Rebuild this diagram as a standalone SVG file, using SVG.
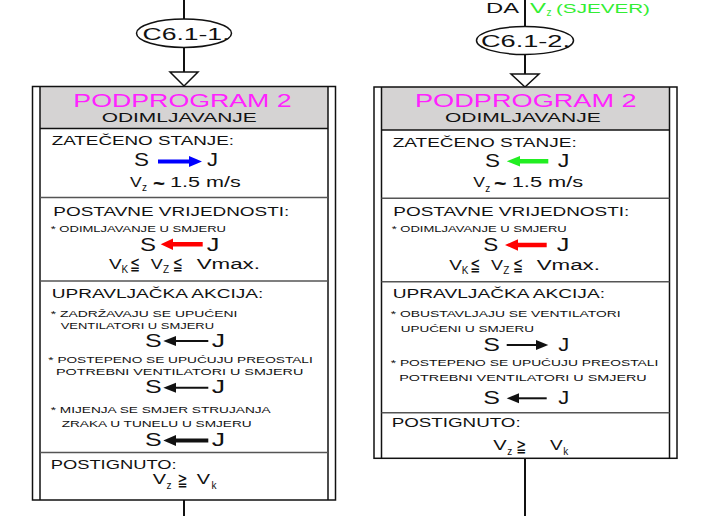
<svg xmlns="http://www.w3.org/2000/svg" width="719" height="516" viewBox="0 0 719 516">
<style>
text{font-family:"Liberation Sans",Arial,"DejaVu Sans",sans-serif;fill:#111}
.t{font-size:18.5px;fill:#ff22ff}
.sub{font-size:13px}
.vv{font-size:14.5px}
.h{font-size:12.5px}
.s{font-size:9px}
.sj{font-size:18.5px}
.v{font-size:15.5px}
.vs{font-size:10px}
.sym{font-family:"DejaVu Sans",sans-serif;font-size:18px}
.frame{fill:none;stroke:#111;stroke-width:1.5}
.hdr{fill:#d5d3d3}
.sep{stroke:#555;stroke-width:1.5}
.con{stroke:#111;stroke-width:2;fill:none}
.tri{fill:#fff;stroke:#111;stroke-width:1.5}
.ell{fill:#fff;stroke:#111;stroke-width:1.5}
.blk{fill:#111}
</style>
<g id="connectors">
<line class="con" x1="184" y1="0" x2="184" y2="19"/>
<line class="con" x1="184" y1="47.5" x2="184" y2="72"/>
<polygon class="tri" points="170,72 198,72 184,86"/>
<line class="con" x1="184" y1="500" x2="184" y2="516"/>
<line class="con" x1="525" y1="0" x2="525" y2="26.5"/>
<line class="con" x1="525" y1="54.5" x2="525" y2="74"/>
<polygon class="tri" points="511,74 539,74 525,87"/>
<line class="con" x1="525" y1="458.3" x2="525" y2="516"/>
</g>
<g id="label-da">
<text x="486" y="13" style="font-size:15px" textLength="33" lengthAdjust="spacingAndGlyphs">DA</text>
<text x="530" y="12.5" style="font-size:14px;fill:#33ee33" textLength="16" lengthAdjust="spacingAndGlyphs">V</text>
<text x="546.5" y="15.5" class="vs" style="fill:#33ee33">z</text>
<text x="556" y="12.5" style="font-size:13.5px;fill:#33ee33" textLength="94" lengthAdjust="spacingAndGlyphs">(SJEVER)</text>
</g>
<g id="c6-1-1">
<ellipse class="ell" cx="184" cy="33.3" rx="47.5" ry="14.2"/>
<text x="142.5" y="39.5" style="font-size:16px" textLength="87" lengthAdjust="spacingAndGlyphs">C6.1-1.</text>
</g>
<g id="c6-1-2">
<ellipse class="ell" cx="525" cy="40.5" rx="48.5" ry="14"/>
<text x="481" y="46.5" style="font-size:16px" textLength="89" lengthAdjust="spacingAndGlyphs">C6.1-2.</text>
</g>
<g id="box-left">
<rect class="hdr" x="40" y="86.5" width="288" height="42"/>
<rect class="frame" x="32.5" y="86.5" width="303" height="413.5"/>
<line class="frame" x1="40" y1="86.5" x2="40" y2="500"/>
<line class="frame" x1="328" y1="86.5" x2="328" y2="500"/>
<line class="frame" x1="40" y1="128.5" x2="328" y2="128.5"/>
<line class="sep" x1="40" y1="197.5" x2="328" y2="197.5"/>
<line class="sep" x1="40" y1="281" x2="328" y2="281"/>
<line class="sep" x1="40" y1="452.5" x2="328" y2="452.5"/>
<text class="t" x="73.3" y="106.7" textLength="218.4" lengthAdjust="spacingAndGlyphs">PODPROGRAM 2</text>
<text class="sub" x="101.7" y="121.7" textLength="155" lengthAdjust="spacingAndGlyphs">ODIMLJAVANJE</text>
<text class="h" x="51.7" y="145" textLength="182.3" lengthAdjust="spacingAndGlyphs">ZATEČENO STANJE:</text>
<text class="sj" x="134" y="166" textLength="15" lengthAdjust="spacingAndGlyphs">S</text>
<polygon fill="#0000ff" points="158,159.5 189,159.5 189,156 202,161.5 189,167 189,163.5 158,163.5"/>
<text class="sj" x="207" y="166" textLength="11" lengthAdjust="spacingAndGlyphs">J</text>
<text class="vv" x="130" y="186.5" textLength="11.7" lengthAdjust="spacingAndGlyphs">V</text>
<text class="vs" x="142" y="191">z</text>
<text x="153" y="189.5" style="font-size:20px;font-weight:bold" textLength="12" lengthAdjust="spacingAndGlyphs">~</text>
<text class="vv" x="170" y="186.5" textLength="70.7" lengthAdjust="spacingAndGlyphs">1.5 m/s</text>
<text class="h" x="53.3" y="215.7" textLength="236" lengthAdjust="spacingAndGlyphs">POSTAVNE VRIJEDNOSTI:</text>
<text class="s" x="50.7" y="231.7" textLength="175.3" lengthAdjust="spacingAndGlyphs">* ODIMLJAVANJE U SMJERU</text>
<text class="sj" x="140" y="251" textLength="16" lengthAdjust="spacingAndGlyphs">S</text>
<polygon fill="#ff0000" points="202.7,242 173,242 173,238.5 160.7,244.3 173,250 173,246.5 202.7,246.5"/>
<text class="sj" x="206.7" y="251" textLength="12.6" lengthAdjust="spacingAndGlyphs">J</text>
<text class="v" x="109" y="269" textLength="12.7" lengthAdjust="spacingAndGlyphs">V</text>
<text class="vs" x="121.5" y="273">K</text>
<text class="sym" x="130" y="270" textLength="10" lengthAdjust="spacingAndGlyphs">≦</text>
<text class="v" x="150.7" y="269" textLength="12" lengthAdjust="spacingAndGlyphs">V</text>
<text class="vs" x="163" y="273">Z</text>
<text class="sym" x="172.7" y="270" textLength="10" lengthAdjust="spacingAndGlyphs">≦</text>
<text class="v" x="196.7" y="269" textLength="63.3" lengthAdjust="spacingAndGlyphs">Vmax.</text>
<text class="h" x="51.7" y="298.3" textLength="211.6" lengthAdjust="spacingAndGlyphs">UPRAVLJAČKA AKCIJA:</text>
<text class="s" x="50.7" y="316.7" textLength="186.6" lengthAdjust="spacingAndGlyphs">* ZADRŽAVAJU SE UPUĆENI</text>
<text class="s" x="60.7" y="329.3" textLength="153.3" lengthAdjust="spacingAndGlyphs">VENTILATORI U SMJERU</text>
<text class="sj" x="145" y="346.7" textLength="16.7" lengthAdjust="spacingAndGlyphs">S</text>
<line stroke="#111" stroke-width="2" x1="175" y1="341" x2="208.3" y2="341"/>
<polygon class="blk" points="176,336 163.3,341 176,346"/>
<text class="sj" x="211.7" y="346.7" textLength="13.3" lengthAdjust="spacingAndGlyphs">J</text>
<text class="s" x="48.3" y="363.3" textLength="264.4" lengthAdjust="spacingAndGlyphs">* POSTEPENO SE UPUĆUJU PREOSTALI</text>
<text class="s" x="56" y="375" textLength="247.3" lengthAdjust="spacingAndGlyphs">POTREBNI VENTILATORI U SMJERU</text>
<text class="sj" x="145" y="393.3" textLength="16.7" lengthAdjust="spacingAndGlyphs">S</text>
<line stroke="#111" stroke-width="2" x1="175" y1="387.7" x2="208.3" y2="387.7"/>
<polygon class="blk" points="176,382.7 163.3,387.7 176,392.7"/>
<text class="sj" x="211.7" y="393.3" textLength="13.3" lengthAdjust="spacingAndGlyphs">J</text>
<text class="s" x="50.7" y="412.7" textLength="220" lengthAdjust="spacingAndGlyphs">* MIJENJA SE SMJER STRUJANJA</text>
<text class="s" x="61.7" y="426.7" textLength="190" lengthAdjust="spacingAndGlyphs">ZRAKA U TUNELU U SMJERU</text>
<text class="sj" x="145" y="445.7" textLength="16.7" lengthAdjust="spacingAndGlyphs">S</text>
<polygon class="blk" points="208.3,438.5 176,438.5 176,435 163.3,440.5 176,446 176,442.5 208.3,442.5"/>
<text class="sj" x="211.7" y="445.7" textLength="13.3" lengthAdjust="spacingAndGlyphs">J</text>
<text class="h" x="50.7" y="469.3" textLength="126" lengthAdjust="spacingAndGlyphs">POSTIGNUTO:</text>
<text class="v" x="152.7" y="484" textLength="13.3" lengthAdjust="spacingAndGlyphs">V</text>
<text class="vs" x="166.5" y="489">z</text>
<text class="sym" x="177.5" y="486" textLength="10" lengthAdjust="spacingAndGlyphs">≧</text>
<text class="v" x="196.7" y="484" textLength="13.3" lengthAdjust="spacingAndGlyphs">V</text>
<text class="vs" x="211.5" y="489">k</text>
</g>
<g id="box-right">
<rect class="hdr" x="381.5" y="87" width="288" height="43"/>
<rect class="frame" x="374" y="87" width="303" height="371.3"/>
<line class="frame" x1="381.5" y1="87" x2="381.5" y2="458.3"/>
<line class="frame" x1="669.5" y1="87" x2="669.5" y2="458.3"/>
<line class="frame" x1="381.5" y1="130" x2="669.5" y2="130"/>
<line class="sep" x1="381.5" y1="198.3" x2="669.5" y2="198.3"/>
<line class="sep" x1="381.5" y1="281.7" x2="669.5" y2="281.7"/>
<line class="sep" x1="381.5" y1="412.7" x2="669.5" y2="412.7"/>
<text class="t" x="415" y="106.7" textLength="221.7" lengthAdjust="spacingAndGlyphs">PODPROGRAM 2</text>
<text class="sub" x="445" y="121.7" textLength="155.7" lengthAdjust="spacingAndGlyphs">ODIMLJAVANJE</text>
<text class="h" x="392.7" y="146.7" textLength="184" lengthAdjust="spacingAndGlyphs">ZATEČENO STANJE:</text>
<text class="sj" x="485" y="166.7" textLength="15" lengthAdjust="spacingAndGlyphs">S</text>
<polygon fill="#22ee22" points="548.3,159 520,159 520,156 506.7,161.2 520,166.5 520,163.5 548.3,163.5"/>
<text class="sj" x="557.7" y="166.7" textLength="11.6" lengthAdjust="spacingAndGlyphs">J</text>
<text class="vv" x="473.3" y="187" textLength="11.7" lengthAdjust="spacingAndGlyphs">V</text>
<text class="vs" x="485.3" y="191.5">z</text>
<text x="494" y="190" style="font-size:20px;font-weight:bold" textLength="12.5" lengthAdjust="spacingAndGlyphs">~</text>
<text class="vv" x="511.7" y="187" textLength="71.6" lengthAdjust="spacingAndGlyphs">1.5 m/s</text>
<text class="h" x="393.3" y="215.7" textLength="236" lengthAdjust="spacingAndGlyphs">POSTAVNE VRIJEDNOSTI:</text>
<text class="s" x="391.7" y="231.7" textLength="175" lengthAdjust="spacingAndGlyphs">* ODIMLJAVANJE U SMJERU</text>
<text class="sj" x="483.3" y="251" textLength="15" lengthAdjust="spacingAndGlyphs">S</text>
<polygon fill="#ff0000" points="546.7,242.7 518,242.7 518,239.2 505,245 518,250.7 518,247.2 546.7,247.2"/>
<text class="sj" x="556.7" y="251" textLength="12.6" lengthAdjust="spacingAndGlyphs">J</text>
<text class="v" x="449.3" y="270" textLength="12.7" lengthAdjust="spacingAndGlyphs">V</text>
<text class="vs" x="461.8" y="274">K</text>
<text class="sym" x="470.3" y="271" textLength="10" lengthAdjust="spacingAndGlyphs">≦</text>
<text class="v" x="491" y="270" textLength="12" lengthAdjust="spacingAndGlyphs">V</text>
<text class="vs" x="503.3" y="274">Z</text>
<text class="sym" x="513" y="271" textLength="10" lengthAdjust="spacingAndGlyphs">≦</text>
<text class="v" x="536.7" y="270" textLength="63.3" lengthAdjust="spacingAndGlyphs">Vmax.</text>
<text class="h" x="392.7" y="298.3" textLength="212.3" lengthAdjust="spacingAndGlyphs">UPRAVLJAČKA AKCIJA:</text>
<text class="s" x="390.7" y="317.3" textLength="230" lengthAdjust="spacingAndGlyphs">* OBUSTAVLJAJU SE VENTILATORI</text>
<text class="s" x="400.7" y="331.7" textLength="133.3" lengthAdjust="spacingAndGlyphs">UPUĆENI U SMJERU</text>
<text class="sj" x="483.3" y="350.7" textLength="16.7" lengthAdjust="spacingAndGlyphs">S</text>
<line stroke="#111" stroke-width="2" x1="506.7" y1="345" x2="537" y2="345"/>
<polygon class="blk" points="536,340 548.3,345 536,350"/>
<text class="sj" x="558.3" y="350.7" textLength="11" lengthAdjust="spacingAndGlyphs">J</text>
<text class="s" x="390.7" y="366" textLength="267.6" lengthAdjust="spacingAndGlyphs">* POSTEPENO SE UPUĆUJU  PREOSTALI</text>
<text class="s" x="399.3" y="380.7" textLength="247.4" lengthAdjust="spacingAndGlyphs">POTREBNI VENTILATORI U SMJERU</text>
<text class="sj" x="483.3" y="404" textLength="16.7" lengthAdjust="spacingAndGlyphs">S</text>
<line stroke="#111" stroke-width="2" x1="518" y1="398.3" x2="546.7" y2="398.3"/>
<polygon class="blk" points="519,393.3 506.7,398.3 519,403.3"/>
<text class="sj" x="558.3" y="404" textLength="11" lengthAdjust="spacingAndGlyphs">J</text>
<text class="h" x="391.7" y="426.7" textLength="129" lengthAdjust="spacingAndGlyphs">POSTIGNUTO:</text>
<text class="v" x="493.3" y="450" textLength="13.4" lengthAdjust="spacingAndGlyphs">V</text>
<text class="vs" x="507.3" y="455">z</text>
<text class="sym" x="516.2" y="452" textLength="10" lengthAdjust="spacingAndGlyphs">≧</text>
<text class="v" x="550" y="450" textLength="12.7" lengthAdjust="spacingAndGlyphs">V</text>
<text class="vs" x="563.3" y="455">k</text>
</g>
</svg>
